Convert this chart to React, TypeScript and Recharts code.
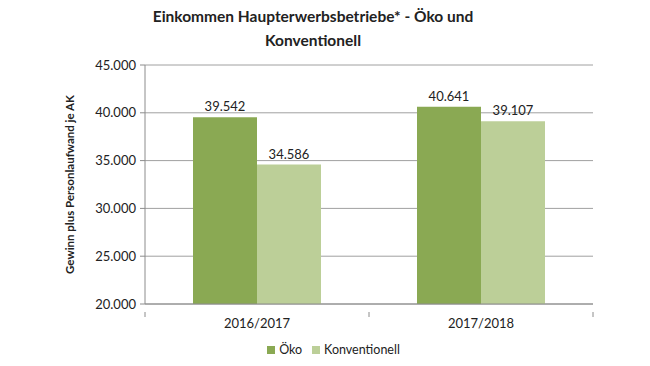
import { BarChart, Bar, XAxis, YAxis, CartesianGrid, Legend, LabelList } from "recharts";

const categories = ["2016/2017", "2017/2018"];
const oeko = [39542, 40641];
const konventionell = [34586, 39107];
const yTicks = [20000, 25000, 30000, 35000, 40000, 45000];
const xTicks = [0, 0.5, 1, 1.5, 2];

const FONT = "Lato, 'Open Sans', sans-serif";
const OEKO = "#8aa953";
const KONV = "#bccf98";
const AXIS = "#8c8c8c";

const data = categories.map((year, i) => ({
  year,
  pos: i + 0.5,
  oeko: oeko[i],
  konventionell: konventionell[i],
}));

const fmt = (v: number) => Math.round(v).toLocaleString("de-DE");

function XTick(props: any) {
  const { x, y, payload } = props;
  const v = Number(payload.value);
  if (Math.abs(v - Math.round(v)) < 1e-6) {
    return <line x1={x} y1={y} x2={x} y2={y + 5} stroke={AXIS} />;
  }
  return (
    <text x={x} y={y + 16} textAnchor="middle" fontFamily={FONT} fontSize={13} fill="#222">
      {categories[Math.floor(v)]}
    </text>
  );
}

function LegendBox() {
  const items = [
    { name: "Öko", color: OEKO },
    { name: "Konventionell", color: KONV },
  ];
  return (
    <div style={{ display: "flex", justifyContent: "center", gap: 10, fontFamily: FONT, fontSize: 12.5, color: "#222", paddingTop: 8, marginLeft: 74 }}>
      {items.map((it) => (
        <span key={it.name} style={{ display: "flex", alignItems: "center" }}>
          <span style={{ width: 8, height: 8, background: it.color, marginRight: 4, display: "inline-block" }} />
          {it.name}
        </span>
      ))}
    </div>
  );
}

export default function App() {
  return (
    <div style={{ position: "absolute", left: 0, top: 0, width: 650, height: 366, background: "#fff" }}>
      <div
        style={{
          position: "absolute",
          left: 0,
          top: 4,
          width: 626,
          textAlign: "center",
          fontFamily: FONT,
          fontWeight: 700,
          fontSize: 15.5,
          lineHeight: "24px",
          color: "#222",
          zIndex: 1,
        }}
      >
        Einkommen Haupterwerbsbetriebe* - Öko und
        <br />
        Konventionell
      </div>
      <BarChart
        width={650}
        height={366}
        data={data}
        margin={{ top: 65, right: 57, left: 0, bottom: 0 }}
        barGap={0}
        barSize={64}
      >
        <CartesianGrid vertical={false} stroke="#a0a0a0" />
        <XAxis
          dataKey="pos"
          type="number"
          domain={[0, 2]}
          ticks={xTicks}
          interval={0}
          tickLine={false}
          stroke={AXIS}
          height={30}
          tick={<XTick />}
        />
        <YAxis
          width={145}
          domain={[20000, 45000]}
          ticks={yTicks}
          tickFormatter={fmt}
          tickSize={5}
          tickMargin={4}
          stroke={AXIS}
          tick={{ fontFamily: FONT, fontSize: 13, fill: "#222" }}
          label={({ viewBox }: any) => (
            <text
              x={74}
              y={viewBox.y + viewBox.height / 2}
              transform={`rotate(-90, 74, ${viewBox.y + viewBox.height / 2})`}
              textAnchor="middle"
              fontFamily={FONT}
              fontWeight={700}
              fontSize={11.5}
              fill="#222"
            >
              Gewinn plus Personlaufwand je AK
            </text>
          )}
        />
        <Legend verticalAlign="bottom" height={32} content={<LegendBox />} />
        <Bar dataKey="oeko" name="Öko" fill={OEKO} isAnimationActive={false}>
          <LabelList dataKey="oeko" position="top" offset={6} formatter={(v: any) => fmt(Number(v))} style={{ fontFamily: FONT, fontSize: 13, fill: "#222" }} />
        </Bar>
        <Bar dataKey="konventionell" name="Konventionell" fill={KONV} isAnimationActive={false}>
          <LabelList dataKey="konventionell" position="top" offset={6} formatter={(v: any) => fmt(Number(v))} style={{ fontFamily: FONT, fontSize: 13, fill: "#222" }} />
        </Bar>
      </BarChart>
    </div>
  );
}
